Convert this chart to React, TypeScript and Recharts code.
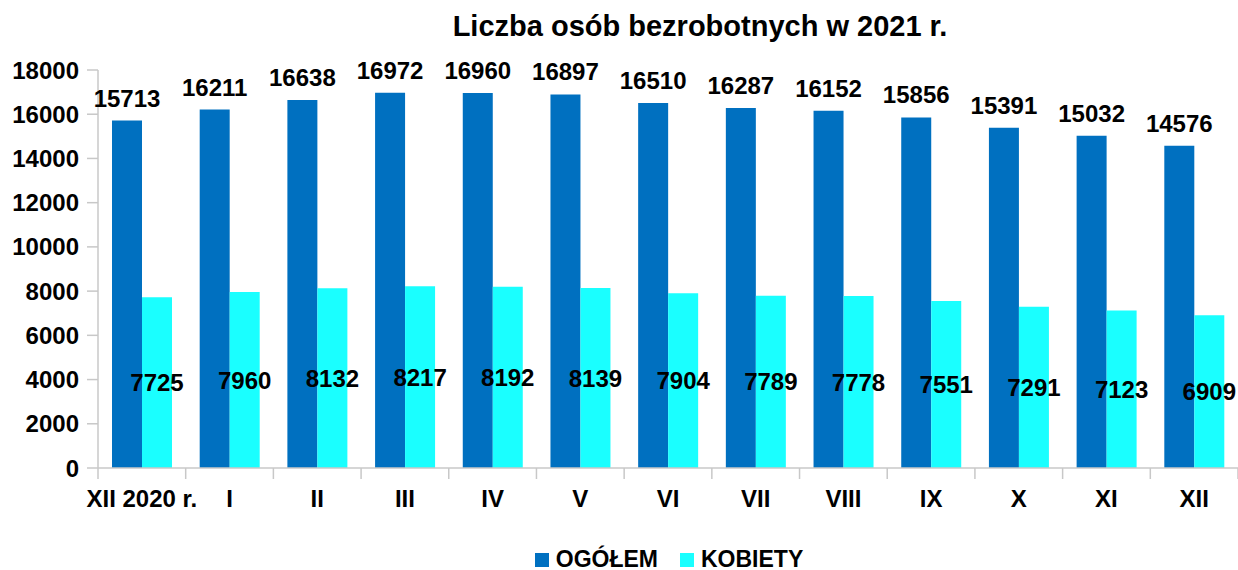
import React from "react";
import { BarChart, Bar, XAxis, YAxis, LabelList, Legend } from "recharts";

const categories = ["XII 2020 r.", "I", "II", "III", "IV", "V", "VI", "VII", "VIII", "IX", "X", "XI", "XII"];
const ogolem = [15713, 16211, 16638, 16972, 16960, 16897, 16510, 16287, 16152, 15856, 15391, 15032, 14576];
const kobiety = [7725, 7960, 8132, 8217, 8192, 8139, 7904, 7789, 7778, 7551, 7291, 7123, 6909];
const yTicks = [0, 2000, 4000, 6000, 8000, 10000, 12000, 14000, 16000, 18000];

const data = categories.map((c, i) => ({ name: c, ogolem: ogolem[i], kobiety: kobiety[i] }));

const DARK = "#0070c0";
const CYAN = "#1affff";
const AXIS = "#c8c8c8";
const FONT = "'Liberation Sans', Arial, sans-serif";

const W = 1238;
const H = 570;
const LEFT = 98;
const RIGHT = 0;
const BAND = (W - LEFT - RIGHT) / categories.length;

const XTick = (props: any) => {
  const { x, y, payload, index } = props;
  const half = BAND / 2;
  return (
    <g>
      <line x1={x - half} x2={x - half} y1={y} y2={y + 11} stroke={AXIS} strokeWidth={1.5} />
      {index === categories.length - 1 && (
        <line x1={x + half} x2={x + half} y1={y} y2={y + 11} stroke={AXIS} strokeWidth={1.5} />
      )}
      <text x={x} y={y + 33} textAnchor="middle" dominantBaseline="middle" fontFamily={FONT} fontWeight="bold" fontSize={24} fill="#000">
        {payload.value}
      </text>
    </g>
  );
};

const LegendContent = () => (
  <div style={{ width: W, display: "flex", justifyContent: "center", paddingLeft: LEFT - RIGHT + 2, paddingTop: 28, boxSizing: "border-box", fontFamily: FONT, fontWeight: "bold", fontSize: 23, color: "#000" }}>
    <div style={{ display: "flex", alignItems: "center", marginRight: 22 }}>
      <span style={{ width: 14, height: 14, background: DARK, display: "inline-block", marginRight: 7 }} />
      OGÓŁEM
    </div>
    <div style={{ display: "flex", alignItems: "center" }}>
      <span style={{ width: 14, height: 14, background: CYAN, display: "inline-block", marginRight: 7 }} />
      KOBIETY
    </div>
  </div>
);

export default function App() {
  return (
    <div style={{ position: "absolute", left: 0, top: 0, width: W, height: H, background: "#fff" }}>
      <div style={{ position: "absolute", left: 0, top: 10, width: W, textAlign: "center", paddingLeft: 162, boxSizing: "border-box", fontFamily: FONT, fontWeight: "bold", fontSize: 29, color: "#000" }}>
        Liczba osób bezrobotnych w 2021 r.
      </div>
      <BarChart width={W} height={H} data={data} margin={{ top: 70, right: RIGHT, left: 0, bottom: 12 }} barGap={0} barSize={30}>
        <YAxis
          width={LEFT}
          domain={[0, 18000]}
          ticks={yTicks}
          interval={0}
          axisLine={{ stroke: AXIS, strokeWidth: 1.5 }}
          tickLine={{ stroke: AXIS, strokeWidth: 1.5 }}
          tickSize={11}
          tickMargin={8}
          tick={{ fontFamily: FONT, fontWeight: "bold", fontSize: 24, fill: "#000" }}
        />
        <XAxis
          dataKey="name"
          height={50}
          interval={0}
          axisLine={{ stroke: AXIS, strokeWidth: 1.5 }}
          tickLine={false}
          tickSize={0}
          tickMargin={0}
          tick={<XTick />}
        />
        <Legend verticalAlign="bottom" height={40} content={<LegendContent />} />
        <Bar dataKey="ogolem" name="OGÓŁEM" fill={DARK} isAnimationActive={false}>
          <LabelList dataKey="ogolem" position="top" offset={14} fontFamily={FONT} fontWeight="bold" fontSize={24} fill="#000" />
        </Bar>
        <Bar dataKey="kobiety" name="KOBIETY" fill={CYAN} isAnimationActive={false}>
          <LabelList dataKey="kobiety" position="center" fontFamily={FONT} fontWeight="bold" fontSize={24} fill="#000" />
        </Bar>
      </BarChart>
    </div>
  );
}
